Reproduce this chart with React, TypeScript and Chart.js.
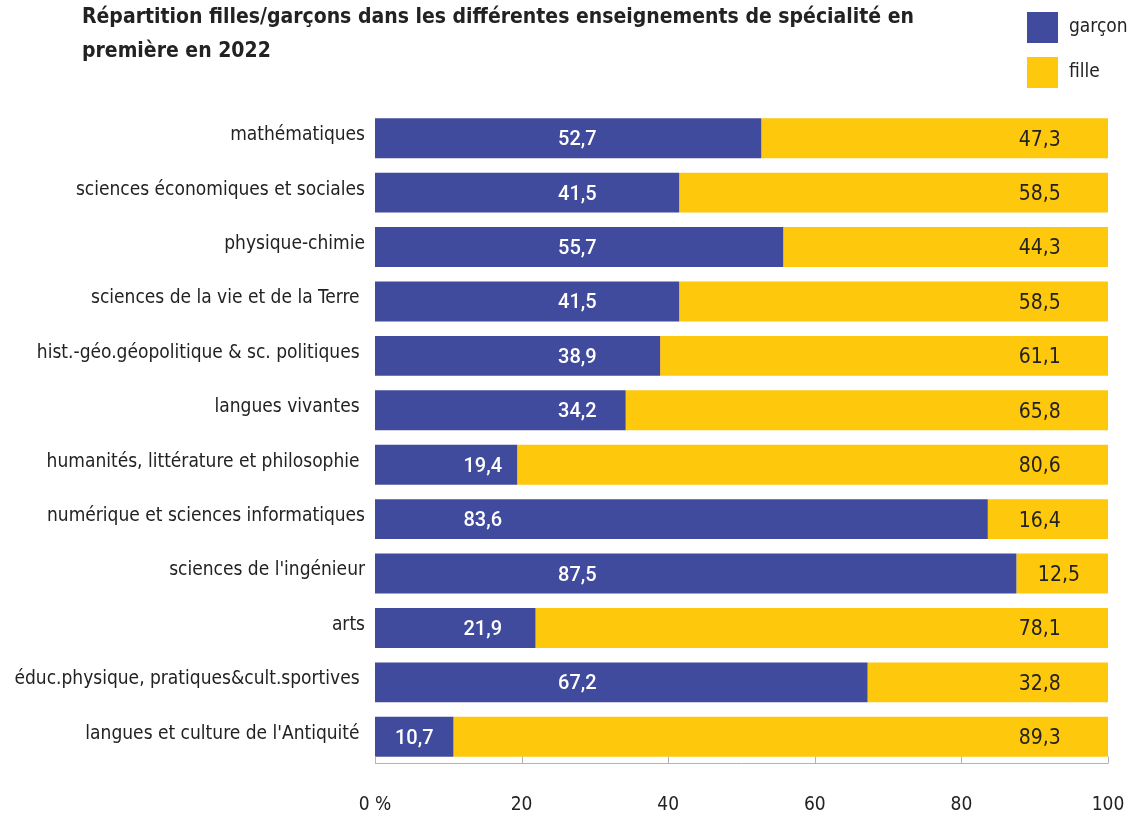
import React, { useEffect, useRef } from "react";
import { Chart, registerables } from "chart.js";

Chart.register(...registerables);

const titleLines = [
  "Répartition filles/garçons dans les différentes enseignements de spécialité en",
  "première en 2022",
];
const seriesNames = ["garçon", "fille"];
const categories = [
  "mathématiques",
  "sciences économiques et sociales",
  "physique-chimie",
  "sciences de la vie et de la Terre ",
  "hist.-géo.géopolitique & sc. politiques ",
  "langues vivantes ",
  "humanités, littérature et philosophie ",
  "numérique et sciences informatiques",
  "sciences de l'ingénieur",
  "arts",
  "éduc.physique, pratiques&cult.sportives ",
  "langues et culture de l'Antiquité ",
];
const garcon = [52.7, 41.5, 55.7, 41.5, 38.9, 34.2, 19.4, 83.6, 87.5, 21.9, 67.2, 10.7];
const fille = [47.3, 58.5, 44.3, 58.5, 61.1, 65.8, 80.6, 16.4, 12.5, 78.1, 32.8, 89.3];
const xTicks = [0, 20, 40, 60, 80, 100];

// where the value labels sit, in axis units (as placed in the original)
const garconLabelAt = [27.6, 27.6, 27.6, 27.6, 27.6, 27.6, 14.7, 14.7, 27.6, 14.7, 27.6, 5.35];
const filleLabelAt = [90.7, 90.7, 90.7, 90.7, 90.7, 90.7, 90.7, 90.7, 93.3, 90.7, 90.7, 90.7];

const COLORS = ["#414B9E", "#FEC80C"];
const FONT = "'Liberation Sans Narrow', 'DejaVu Sans Condensed', 'Roboto Condensed', sans-serif";
const TEXT = "#222222";

const fmt = (v: number) => v.toFixed(1).replace(".", ",");

const decor = {
  id: "decor",
  afterDatasetsDraw(chart: any) {
    const ctx = chart.ctx as CanvasRenderingContext2D;
    const x = chart.scales.x;
    const y = chart.scales.y;
    const area = chart.chartArea;
    ctx.save();
    // axis line + upward ticks
    ctx.strokeStyle = "#B4B4B4";
    ctx.lineWidth = 1;
    ctx.beginPath();
    const yb = Math.round(area.bottom) - 0.5;
    ctx.moveTo(x.getPixelForValue(0), yb);
    ctx.lineTo(x.getPixelForValue(100), yb);
    xTicks.forEach((t) => {
      const px = Math.round(x.getPixelForValue(t)) + 0.5;
      ctx.moveTo(px, yb);
      ctx.lineTo(px, yb - 7);
    });
    ctx.stroke();

    // value labels
    ctx.textAlign = "center";
    ctx.textBaseline = "middle";
    categories.forEach((_, i) => {
      const cy = y.getPixelForValue(i) + 2;
      ctx.font = `500 20px Roboto, ${FONT}`;
      ctx.fillStyle = "#FFFFFF";
      ctx.fillText(fmt(garcon[i]), x.getPixelForValue(garconLabelAt[i]), cy);
      ctx.font = `21px ${FONT}`;
      ctx.fillStyle = TEXT;
      ctx.fillText(fmt(fille[i]), x.getPixelForValue(filleLabelAt[i]), cy);
    });
    ctx.restore();
  },
  afterDraw(chart: any) {
    const ctx = chart.ctx as CanvasRenderingContext2D;
    ctx.save();
    // title
    ctx.fillStyle = TEXT;
    ctx.textAlign = "left";
    ctx.textBaseline = "middle";
    ctx.font = `bold 21px ${FONT}`;
    ctx.fillText(titleLines[0], 82, 18);
    ctx.fillText(titleLines[1], 82, 52);
    // legend
    chart.data.datasets.forEach((ds: any, i: number) => {
      const top = 12 + i * 45;
      ctx.fillStyle = ds.backgroundColor;
      ctx.fillRect(1027, top, 31, 31);
      ctx.fillStyle = TEXT;
      ctx.font = `19px ${FONT}`;
      ctx.fillText(ds.label, 1069, top + 15);
    });
    ctx.restore();
  },
};

export default function App() {
  const ref = useRef<HTMLCanvasElement | null>(null);
  useEffect(() => {
    if (!ref.current) return;
    const chart = new Chart(ref.current, {
      type: "bar",
      data: {
        labels: categories,
        datasets: [
          { label: seriesNames[0], data: garcon, backgroundColor: COLORS[0], borderWidth: 0 },
          { label: seriesNames[1], data: fille, backgroundColor: COLORS[1], borderWidth: 0 },
        ],
      },
      options: {
        indexAxis: "y",
        responsive: false,
        animation: false,
        datasets: { bar: { barPercentage: 1, categoryPercentage: 0.735 } },
        layout: { padding: { top: 111, left: 0, right: 22, bottom: 0 } },
        plugins: {
          legend: { display: false },
          title: { display: false },
          tooltip: { enabled: false },
        },
        scales: {
          x: {
            stacked: true,
            min: 0,
            max: 100,
            afterBuildTicks: (s: any) => {
              s.ticks = xTicks.map((v) => ({ value: v }));
            },
            afterFit: (s: any) => {
              s.height = 52;
              s.paddingLeft = 0;
              s.paddingRight = 0;
            },
            grid: { display: false, drawTicks: false },
            border: { display: false },
            ticks: {
              padding: 30,
              color: TEXT,
              font: { family: FONT, size: 19 },
              callback: (v: any) => (Number(v) === 0 ? "0 %" : String(v)),
            },
          },
          y: {
            stacked: true,
            afterFit: (s: any) => {
              s.width = 375;
              s.paddingTop = 0;
              s.paddingBottom = 0;
            },
            grid: { display: false, drawTicks: false },
            border: { display: false },
            ticks: {
              padding: 10,
              labelOffset: -3,
              color: TEXT,
              font: { family: FONT, size: 19 },
              autoSkip: false,
            },
          },
        },
      },
      plugins: [decor],
    });
    return () => chart.destroy();
  }, []);
  return (
    <div style={{ position: "fixed", left: 0, top: 0, width: 1130, height: 816, background: "#fff" }}>
      <canvas ref={ref} width={1130} height={816} />
    </div>
  );
}
